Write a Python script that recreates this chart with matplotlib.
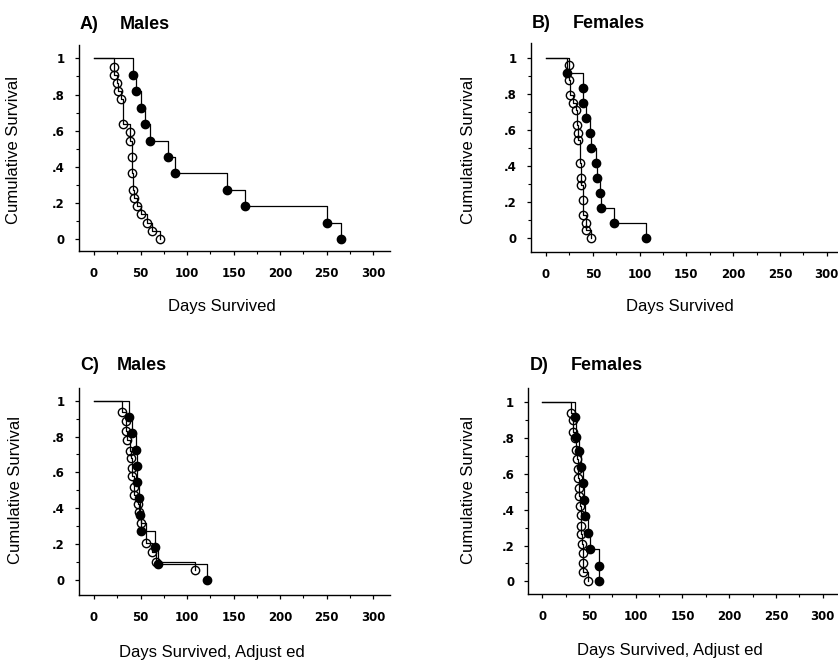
import matplotlib
matplotlib.use("Agg")
import matplotlib.pyplot as plt
from matplotlib.ticker import MultipleLocator

# -----------------------------
# Data (days, cumulative survival at each event)
# -----------------------------
# A) Males
a_filled_days = [42, 45, 50.5, 55, 60, 79, 87.5, 142.5, 162.5, 250.5, 265]
a_filled_surv = [0.909, 0.818, 0.727, 0.636, 0.545, 0.455, 0.364, 0.273, 0.182, 0.091, 0.0]
a_open_days = [21, 22, 24.5, 26, 29.5, 31, 38.5, 38.5, 40.5, 41, 42, 43.5, 46, 51, 56.5, 62, 71]
a_open_surv = [0.955, 0.909, 0.864, 0.818, 0.773, 0.636, 0.591, 0.545, 0.455, 0.364, 0.273,
               0.227, 0.182, 0.136, 0.091, 0.045, 0.0]

# B) Females
b_filled_days = [22, 39, 39, 42.5, 47, 48, 53, 54, 57.5, 59, 72.5, 106.5]
b_filled_surv = [0.917, 0.833, 0.75, 0.667, 0.583, 0.5, 0.417, 0.333, 0.25, 0.167, 0.083, 0.0]
b_open_days = [24.5, 25, 25.5, 28.5, 32, 33.5, 34.5, 34.5, 36.5, 37, 37, 39, 39, 42.5, 42.5, 48]
b_open_surv = [0.958, 0.875, 0.792, 0.75, 0.708, 0.625, 0.583, 0.542, 0.417, 0.333, 0.292,
               0.208, 0.125, 0.083, 0.042, 0.0]

# C) Males, adjusted
c_filled_days = [38, 40.5, 45, 46, 46.5, 48.5, 49.5, 51, 65.5, 69, 121]
c_filled_surv = [0.909, 0.818, 0.727, 0.636, 0.545, 0.455, 0.364, 0.273, 0.182, 0.091, 0.0]
c_open_days = [30, 34, 34.5, 35, 38.5, 39.5, 41, 41, 42.5, 43.5, 47, 48, 51, 56, 62, 66.5, 108.5]
c_open_surv = [0.935, 0.889, 0.833, 0.781, 0.722, 0.681, 0.626, 0.578, 0.519, 0.472, 0.426,
               0.38, 0.315, 0.204, 0.157, 0.10, 0.056]

# D) Females, adjusted
d_filled_days = [35, 36, 39, 41, 43, 44.5, 45.5, 49, 51.5, 61, 61]
d_filled_surv = [0.914, 0.806, 0.728, 0.635, 0.549, 0.456, 0.363, 0.272, 0.182, 0.086, 0.0]
d_open_days = [30.5, 32.5, 33, 35, 36.5, 37.5, 38, 38.5, 39, 39.5, 40, 41, 41.5, 41.5, 42,
               43, 43, 44, 48.5]
d_open_surv = [0.94, 0.90, 0.834, 0.797, 0.732, 0.682, 0.629, 0.579, 0.523, 0.475, 0.419,
               0.369, 0.309, 0.263, 0.207, 0.158, 0.102, 0.052, 0.0]

x_ticks = [0, 50, 100, 150, 200, 250, 300]
y_ticks = [0, 0.2, 0.4, 0.6, 0.8, 1.0]
y_tick_labels = ["0", ".2", ".4", ".6", ".8", "1"]

W, H = 838, 663
TICK_FONT = {"family": "DejaVu Sans", "weight": "bold", "size": 8.5}


def px_axes(fig, left, right, top, bottom):
    return fig.add_axes([left / W, 1 - bottom / H, (right - left) / W, (bottom - top) / H])


def km_step(ax, days, surv, filled):
    xs = [0] + list(days)
    ys = [1.0] + list(surv)
    ax.step(xs, ys, where="post", color="black", lw=0.9)
    ax.plot(days, surv, "o", ms=6, mec="black", mew=1.0,
            mfc="black" if filled else "none", ls="none")


def draw_panel(ax, filled_days, filled_surv, open_days, open_surv, xlim, ylim):
    km_step(ax, open_days, open_surv, filled=False)
    km_step(ax, filled_days, filled_surv, filled=True)
    ax.set_xlim(*xlim)
    ax.set_ylim(*ylim)
    for side in ["top", "right"]:
        ax.spines[side].set_visible(False)
    for side in ["left", "bottom"]:
        ax.spines[side].set_linewidth(1.0)
    ax.set_xticks(x_ticks)
    ax.set_xticklabels([str(t) for t in x_ticks], fontdict=TICK_FONT)
    ax.set_yticks(y_ticks)
    ax.set_yticklabels(y_tick_labels, fontdict=TICK_FONT)
    ax.xaxis.set_minor_locator(MultipleLocator(25))
    ax.yaxis.set_minor_locator(MultipleLocator(0.1))
    ax.tick_params(which="major", direction="out", length=3.2, width=0.9)
    ax.tick_params(which="minor", direction="out", length=2.2, width=0.8)
    ax.tick_params(axis="x", which="major", pad=8.5)
    ax.tick_params(axis="y", which="major", pad=7)


fig = plt.figure(figsize=(W / 100, H / 100), dpi=100)

ax_a = px_axes(fig, 79, 390, 45, 251)
draw_panel(ax_a, a_filled_days, a_filled_surv, a_open_days, a_open_surv,
           (-16.1, 317.9), (-0.066, 1.074))
ax_b = px_axes(fig, 530.5, 838, 43, 251.7)
draw_panel(ax_b, b_filled_days, b_filled_surv, b_open_days, b_open_surv,
           (-16.6, 312.1), (-0.078, 1.082))
ax_c = px_axes(fig, 79, 390, 388, 595)
draw_panel(ax_c, c_filled_days, c_filled_surv, c_open_days, c_open_surv,
           (-16.1, 317.9), (-0.084, 1.071))
ax_d = px_axes(fig, 528.3, 838, 388, 594)
draw_panel(ax_d, d_filled_days, d_filled_surv, d_open_days, d_open_surv,
           (-15.0, 316.4), (-0.070, 1.078))


def ftext(x, y, s, **kw):
    fig.text(x / W, 1 - y / H, s, family="Liberation Sans", **kw)


# panel titles
for letter, name, x1, x2, y in [("A)", "Males", 80, 120, 24.5),
                                ("B)", "Females", 532, 573, 23.5),
                                ("C)", "Males", 80, 117, 365),
                                ("D)", "Females", 530, 571, 366)]:
    ftext(x1, y, letter, size=13, weight="bold", ha="left", va="center")
    ftext(x2, y, name, size=13, weight="bold", ha="left", va="center")

# axis labels
for x, y in [(14, 150), (468, 150), (16, 490), (468, 490)]:
    ftext(x, y, "Cumulative Survival", size=12, rotation=90, ha="center", va="center")

ftext(222, 307, "Days Survived", size=12, ha="center", va="center")
ftext(680, 307, "Days Survived", size=12, ha="center", va="center")
ftext(212, 652, "Days Survived, Adjust ed", size=12, ha="center", va="center")
ftext(670, 650, "Days Survived, Adjust ed", size=12, ha="center", va="center")

fig.savefig("out.png", dpi=100)
